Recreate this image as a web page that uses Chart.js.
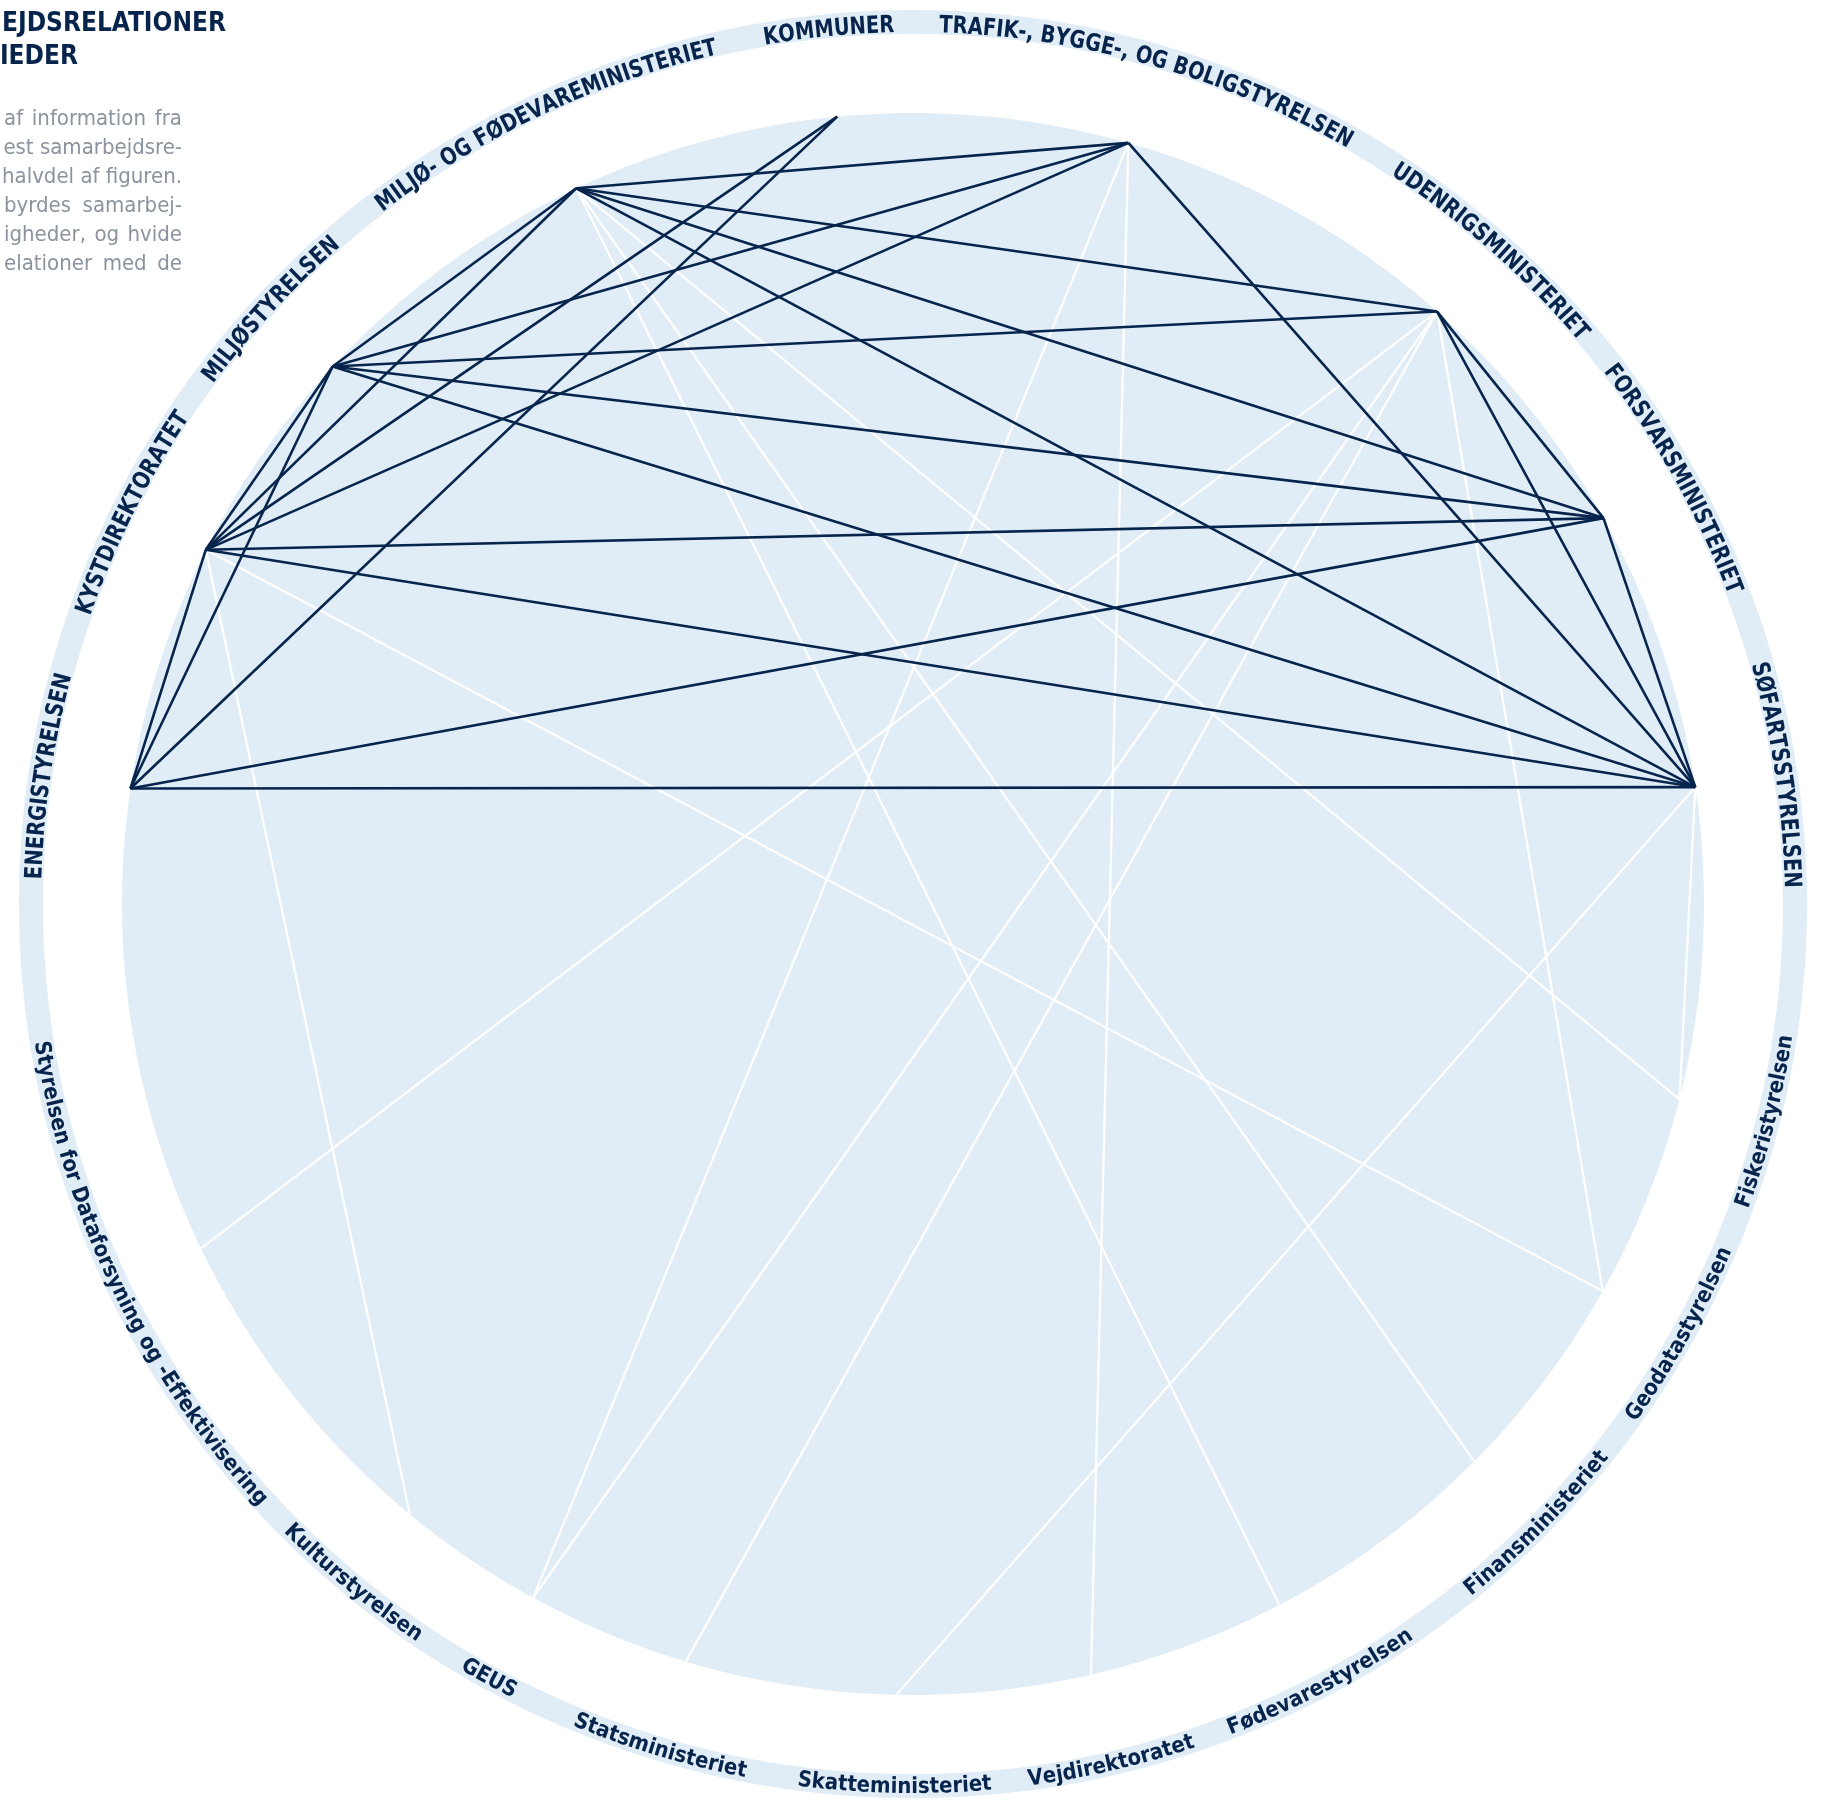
<!DOCTYPE html>
<html>
<head>
<meta charset="utf-8">
<title>Samarbejdsrelationer</title>
<style>
    html, body { margin: 0; padding: 0; background: #ffffff; }
    #chart_wrap { position: relative; width: 1826px; height: 1805px; }
</style>
<script src="https://cdn.jsdelivr.net/npm/chart.js"></script>
</head>
<body>
<div id="chart_wrap"><canvas id="network_chart"></canvas></div>
<script>
// nodes round the ring, angle in degrees clockwise from 12 o'clock
var NodeName = [
    'ENERGISTYRELSEN', 'KYSTDIREKTORATET', 'MILJØSTYRELSEN', 'MILJØ- OG FØDEVAREMINISTERIET', 'KOMMUNER',
    'TRAFIK-, BYGGE-, OG BOLIGSTYRELSEN', 'UDENRIGSMINISTERIET', 'FORSVARSMINISTERIET', 'SØFARTSSTYRELSEN',
    'Fiskeristyrelsen', 'Geodatastyrelsen', 'Finansministeriet', 'Fødevarestyrelsen', 'Vejdirektoratet',
    'Skatteministeriet', 'Statsministeriet', 'GEUS', 'Kulturstyrelsen', 'Styrelsen for Dataforsyning og -Effektivisering'
];
var NodeAngle = [278.4, 296.6, 312.8, 334.8, 354.5, 15.8, 41.5, 60.8, 81.5,
    104.3, 119.3, 134.8, 152.4, 167.0, 181.2, 196.7, 208.7, 219.5, 244.2];

// relations between the authorities in the upper half (dark lines), index pairs into NodeName
var DarkLinks = [
    [0, 1], [0, 2], [0, 4], [0, 7], [0, 8],
    [1, 2], [1, 3], [1, 4], [1, 5], [1, 7], [1, 8],
    [2, 3], [2, 5], [2, 6], [2, 7], [2, 8],
    [3, 5], [3, 6], [3, 7], [3, 8],
    [5, 8], [6, 7], [6, 8], [7, 8]
];
// relations with the other authorities (white lines)
var LightLinks = [
    [1, 17], [1, 10], [3, 9], [3, 11], [3, 12], [5, 16], [5, 13],
    [6, 18], [6, 16], [6, 15], [6, 10], [8, 9], [8, 14]
];

var TitleLines = ['EJDSRELATIONER', 'IEDER'];
var IntroLines = ['af information fra', 'est samarbejdsre-', 'halvdel af figuren.', 'byrdes samarbej-', 'igheder, og hvide', 'elationer med de'];

var Style = {
    Navy: '#06244c',
    Fill: '#e1edf6',
    Grey: '#8a939e',
    CenterX: 913,
    CenterY: 904,
    Radius: 791
};

var Form = {
    Init: function () {
        var w = 1826, h = 1805;
        new Chart(document.getElementById('network_chart').getContext('2d'), {
            type: 'scatter',
            data: { datasets: Form.Datasets() },
            options: {
                responsive: true,
                maintainAspectRatio: false,
                animation: false,
                layout: { padding: 0 },
                plugins: { legend: { display: false }, tooltip: { enabled: false } },
                scales: {
                    x: { type: 'linear', display: false, min: -Style.CenterX / Style.Radius, max: (w - Style.CenterX) / Style.Radius },
                    y: { type: 'linear', display: false, min: -(h - Style.CenterY) / Style.Radius, max: Style.CenterY / Style.Radius }
                }
            },
            plugins: [RingPlugin]
        });
    },
    Point: function (i) {
        var a = NodeAngle[i] * Math.PI / 180;
        return { x: Math.sin(a), y: Math.cos(a) };
    },
    Datasets: function () {
        var sets = [];
        LightLinks.forEach(function (l) {
            sets.push({
                data: [Form.Point(l[0]), Form.Point(l[1])],
                showLine: true, pointRadius: 0, borderColor: '#ffffff', borderWidth: 2.2, order: 2
            });
        });
        DarkLinks.forEach(function (l) {
            sets.push({
                data: [Form.Point(l[0]), Form.Point(l[1])],
                showLine: true, pointRadius: 0, borderColor: Style.Navy, borderWidth: 2.6, order: 1
            });
        });
        return sets;
    },
    Geometry: function (chart) {
        var cx = chart.scales.x.getPixelForValue(0);
        var cy = chart.scales.y.getPixelForValue(0);
        return { cx: cx, cy: cy, r: chart.scales.x.getPixelForValue(1) - cx };
    },
    ArcText: function (ctx, text, g, r, bearing, outward, spacing, sx) {
        var widths = text.split('').map(function (c) { return ctx.measureText(c).width * sx; });
        var total = widths.reduce(function (a, b) { return a + b; }, 0) + spacing * (text.length - 1);
        var dir = outward ? 1 : -1;
        var start = bearing * Math.PI / 180 - dir * total / (2 * r);
        var off = 0;
        for (var i = 0; i < text.length; ++i) {
            var b = start + dir * (off + widths[i] / 2) / r;
            ctx.save();
            ctx.translate(g.cx + r * Math.sin(b), g.cy - r * Math.cos(b));
            ctx.rotate(outward ? b : b - Math.PI);
            ctx.scale(sx, 1);
            ctx.fillText(text[i], 0, 0);
            ctx.restore();
            off += widths[i] + spacing;
        }
    },
    Justify: function (ctx, text, right, width, y) {
        var words = text.split(' ');
        var plain = words.map(function (wd) { return ctx.measureText(wd).width; });
        var used = plain.reduce(function (a, b) { return a + b; }, 0);
        var gap = words.length > 1 ? Math.max((width - used) / (words.length - 1), ctx.measureText(' ').width) : 0;
        var x = right;
        ctx.textAlign = 'right';
        for (var i = words.length - 1; i >= 0; --i) {
            ctx.fillText(words[i], x, y);
            x -= plain[i] + gap;
        }
    }
};

var RingPlugin = {
    id: 'ringPlugin',
    beforeDatasetsDraw: function (chart) {
        var ctx = chart.ctx, g = Form.Geometry(chart);
        ctx.save();
        ctx.fillStyle = Style.Fill;
        ctx.beginPath();
        ctx.arc(g.cx, g.cy, g.r, 0, 2 * Math.PI);
        ctx.fill();
        ctx.strokeStyle = Style.Fill;
        ctx.lineWidth = 24;
        ctx.beginPath();
        ctx.arc(g.cx, g.cy, g.r + 91, 0, 2 * Math.PI);
        ctx.stroke();
        ctx.restore();
    },
    afterDatasetsDraw: function (chart) {
        var ctx = chart.ctx, g = Form.Geometry(chart);
        ctx.save();
        ctx.fillStyle = Style.Navy;
        ctx.textAlign = 'center';
        ctx.textBaseline = 'alphabetic';
        for (var i = 0; i < NodeName.length; ++i) {
            var a = NodeAngle[i];
            var upper = a < 90 || a > 270;
            if (upper) {
                ctx.font = 'bold 24px "DejaVu Sans Condensed", "DejaVu Sans", sans-serif';
                Form.ArcText(ctx, NodeName[i], g, g.r + 81, a, true, 0, 0.9);
            } else {
                ctx.font = 'bold 22px "DejaVu Sans Condensed", "DejaVu Sans", sans-serif';
                Form.ArcText(ctx, NodeName[i], g, g.r + 98, a, false, 0, 1);
            }
        }

        // heading and intro text, cut by the page edge
        ctx.textAlign = 'right';
        ctx.font = 'bold 26px "DejaVu Sans Condensed", "DejaVu Sans", sans-serif';
        ctx.fillText(TitleLines[0], 226, 31);
        ctx.fillText(TitleLines[1], 78, 64);

        ctx.fillStyle = Style.Grey;
        ctx.font = '22px "DejaVu Sans Condensed", "DejaVu Sans", sans-serif';
        for (var j = 0; j < IntroLines.length; ++j) {
            Form.Justify(ctx, IntroLines[j], 182, 178, 125 + j * 29);
        }
        ctx.restore();
    }
};

Form.Init();
</script>
</body>
</html>
